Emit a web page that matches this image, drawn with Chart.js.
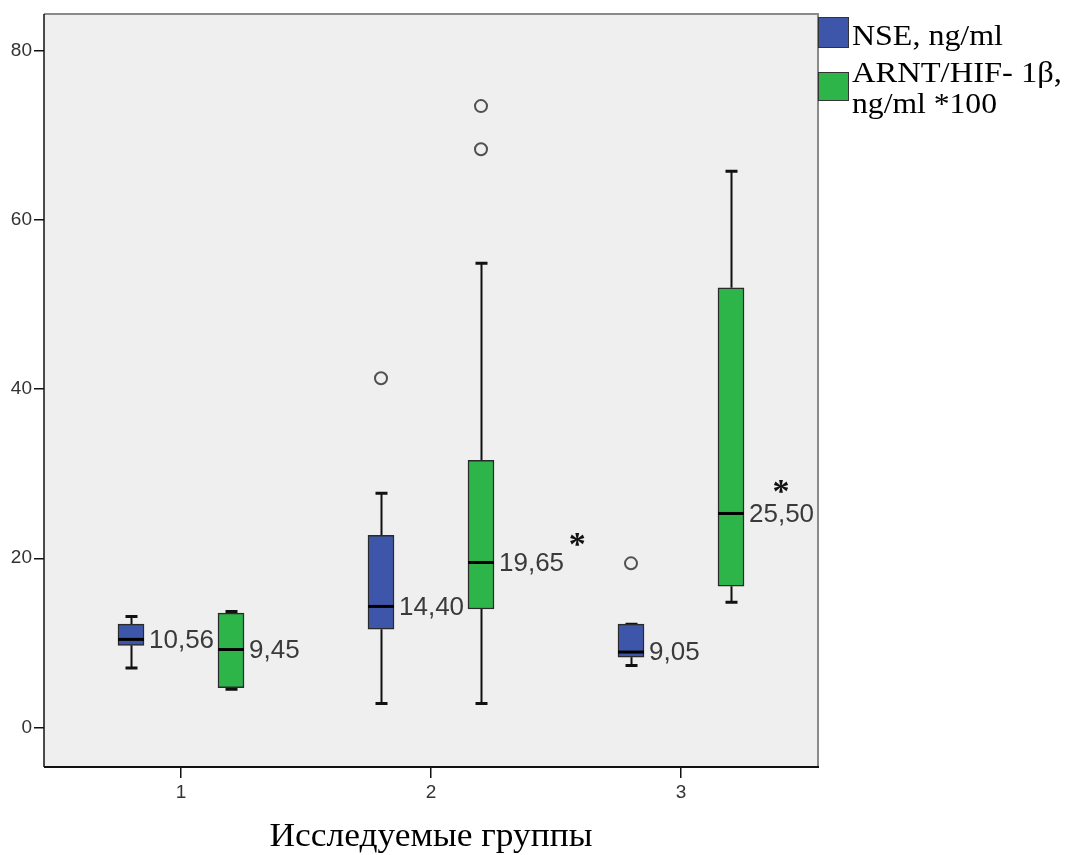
<!DOCTYPE html>
<html>
<head>
<meta charset="utf-8">
<script src="https://cdn.jsdelivr.net/npm/chart.js@4.4.1/dist/chart.umd.min.js"></script>
<style>
  html, body { margin: 0; padding: 0; background: #ffffff; }
  #wrap { width: 1072px; height: 855px; position: relative; }
</style>
</head>
<body>
<div id="wrap"><canvas id="c" width="1072" height="855"></canvas></div>
<script>
// ---- data ----
const groups = [1, 2, 3];
const tickLabelsX = ['1', '2', '3'];
const tickValuesY = [0, 20, 40, 60, 80];
const seriesNames = ['NSE, ng/ml', 'ARNT/HIF- 1β,', 'ng/ml *100'];
const axisTitleX = 'Исследуемые группы';

const nseMin = [7.0, 2.8, 7.3];
const nseQ1 = [9.7, 11.6, 8.3];
const nseMed = [10.4, 14.3, 8.9];
const nseQ3 = [12.2, 22.7, 12.2];
const nseMax = [13.1, 27.7, 12.2];
const nseOutliers = [[], [41.3], [19.4]];
const nseMedianLabels = ['10,56', '14,40', '9,05'];

const arntMin = [4.5, 2.8, 14.8];
const arntQ1 = [4.7, 14.0, 16.7];
const arntMed = [9.2, 19.5, 25.3];
const arntQ3 = [13.5, 31.6, 52.0];
const arntMax = [13.7, 54.9, 65.8];
const arntOutliers = [[], [73.5, 68.4], []];
const arntMedianLabels = ['9,45', '19,65', '25,50'];

// significance marks (value coordinates)
const sigMarkX = [null, 2.585, 3.40];
const sigMarkY = [null, 22.4, 28.6];

const BLUE = '#3d56a9';
const GREEN = '#2db54a';
const OFFSET = 0.2;
const BOX_W = 26;

const series = [
  { color: BLUE, off: -OFFSET, min: nseMin, q1: nseQ1, med: nseMed, q3: nseQ3, max: nseMax, out: nseOutliers, lab: nseMedianLabels },
  { color: GREEN, off: OFFSET, min: arntMin, q1: arntQ1, med: arntMed, q3: arntQ3, max: arntMax, out: arntOutliers, lab: arntMedianLabels }
];

const datasets = [];
series.forEach(s => {
  datasets.push({
    type: 'bar',
    data: groups.map((g, i) => ({ x: g + s.off, y: [s.q1[i], s.q3[i]] })),
    backgroundColor: s.color,
    borderColor: '#2a2a2a',
    borderWidth: 1.5,
    borderSkipped: false,
    barThickness: BOX_W,
    grouped: false,
    order: 2
  });
});
series.forEach(s => {
  const pts = [];
  groups.forEach((g, i) => s.out[i].forEach(v => pts.push({ x: g + s.off, y: v })));
  datasets.push({
    type: 'scatter',
    data: pts,
    pointStyle: 'circle',
    pointRadius: 6,
    borderWidth: 2,
    borderColor: '#505050',
    backgroundColor: 'rgba(0,0,0,0)',
    order: 1
  });
});

function fitText(ctx, text, x, y, targetW, align) {
  const w = ctx.measureText(text).width;
  const sx = targetW / w;
  ctx.save();
  ctx.textAlign = 'left';
  let x0 = x;
  if (align === 'center') x0 = x - targetW / 2;
  ctx.translate(x0, y);
  ctx.scale(sx, 1);
  ctx.fillText(text, 0, 0);
  ctx.restore();
}

const boxPlugin = {
  id: 'boxPlugin',
  beforeDraw(chart) {
    const { ctx, chartArea: a } = chart;
    ctx.save();
    ctx.fillStyle = '#efefef';
    ctx.fillRect(a.left, a.top, a.right - a.left, a.bottom - a.top);
    ctx.restore();
  },
  beforeDatasetsDraw(chart) {
    const { ctx, scales: { x, y } } = chart;
    ctx.save();
    ctx.strokeStyle = '#111';
    series.forEach(s => {
      groups.forEach((g, i) => {
        const px = Math.round(x.getPixelForValue(g + s.off)) + 0.5;
        ctx.lineWidth = 2;
        ctx.beginPath();
        ctx.moveTo(px, y.getPixelForValue(s.q3[i]));
        ctx.lineTo(px, y.getPixelForValue(s.max[i]));
        ctx.moveTo(px, y.getPixelForValue(s.q1[i]));
        ctx.lineTo(px, y.getPixelForValue(s.min[i]));
        ctx.stroke();
        ctx.lineWidth = 3;
        ctx.beginPath();
        [s.max[i], s.min[i]].forEach(v => {
          const py = y.getPixelForValue(v);
          ctx.moveTo(px - 6, py);
          ctx.lineTo(px + 6, py);
        });
        ctx.stroke();
      });
    });
    ctx.restore();
  },
  afterDatasetsDraw(chart) {
    const { ctx, chartArea: a, scales: { x, y } } = chart;
    ctx.save();
    // medians + labels
    series.forEach(s => {
      groups.forEach((g, i) => {
        const px = x.getPixelForValue(g + s.off);
        const py = y.getPixelForValue(s.med[i]);
        ctx.strokeStyle = '#000';
        ctx.lineWidth = 3;
        ctx.beginPath();
        ctx.moveTo(px - BOX_W / 2, py);
        ctx.lineTo(px + BOX_W / 2, py);
        ctx.stroke();
        ctx.fillStyle = '#3a3a3a';
        ctx.font = '26px "Liberation Sans", Arial, sans-serif';
        ctx.textAlign = 'left';
        ctx.textBaseline = 'middle';
        ctx.fillText(s.lab[i], px + BOX_W / 2 + 5, py + 1);
      });
    });
    // significance asterisks
    ctx.fillStyle = '#111';
    ctx.font = 'bold 34px "Liberation Serif", serif';
    ctx.textAlign = 'center';
    ctx.textBaseline = 'middle';
    groups.forEach((g, i) => {
      if (sigMarkX[i] == null) return;
      ctx.fillText('*', x.getPixelForValue(sigMarkX[i]), y.getPixelForValue(sigMarkY[i]) + 8);
    });
    // frame
    ctx.lineWidth = 2;
    ctx.strokeStyle = '#8a8a8a';
    ctx.beginPath();
    ctx.moveTo(a.left, a.top);
    ctx.lineTo(a.right, a.top);
    ctx.lineTo(a.right, a.bottom);
    ctx.stroke();
    ctx.strokeStyle = '#111';
    ctx.lineWidth = 1.5;
    ctx.beginPath();
    ctx.moveTo(a.left, a.top);
    ctx.lineTo(a.left, a.bottom);
    ctx.stroke();
    ctx.lineWidth = 2;
    ctx.beginPath();
    ctx.moveTo(a.left, a.bottom);
    ctx.lineTo(a.right + 1, a.bottom);
    ctx.stroke();

    // legend
    const colors = [BLUE, GREEN];
    const boxes = [[a.right, 17, 30, 30], [a.right, 72, 30, 28]];
    boxes.forEach((b, i) => {
      ctx.fillStyle = colors[i];
      ctx.fillRect(b[0], b[1], b[2], b[3]);
      ctx.strokeStyle = '#333';
      ctx.lineWidth = 1;
      ctx.strokeRect(b[0] + 0.5, b[1] + 0.5, b[2], b[3]);
    });
    ctx.fillStyle = '#000';
    ctx.font = '29px "Liberation Serif", "Times New Roman", serif';
    ctx.textBaseline = 'alphabetic';
    fitText(ctx, seriesNames[0], a.right + 34, 45, 151, 'left');
    fitText(ctx, seriesNames[1], a.right + 34, 82, 210, 'left');
    fitText(ctx, seriesNames[2], a.right + 34, 113, 145, 'left');

    // x axis title
    ctx.font = '33px "Liberation Serif", "Times New Roman", serif';
    fitText(ctx, axisTitleX, 431, 846, 323, 'center');
    ctx.restore();
  }
};

new Chart(document.getElementById('c'), {
  data: { datasets },
  options: {
    responsive: false,
    animation: false,
    layout: { padding: { left: 0, top: 14, right: 254, bottom: 0 } },
    plugins: { legend: { display: false }, tooltip: { enabled: false } },
    scales: {
      x: {
        type: 'linear',
        offset: false,
        min: 0.452,
        max: 3.548,
        afterBuildTicks: sc => { sc.ticks = groups.map(v => ({ value: v })); },
        afterFit: sc => { sc.height = 88; },
        grid: { display: true, offset: false, drawOnChartArea: false, drawTicks: true, tickLength: 11, color: '#111', lineWidth: 1.5 },
        border: { display: false },
        ticks: {
          callback: (v) => tickLabelsX[groups.indexOf(v)] ?? '',
          font: { family: '"Liberation Sans", Arial, sans-serif', size: 19 },
          color: '#333',
          padding: 3,
          maxRotation: 0
        }
      },
      y: {
        type: 'linear',
        min: -4.7,
        max: 84.4,
        afterBuildTicks: sc => { sc.ticks = tickValuesY.map(v => ({ value: v })); },
        afterFit: sc => { sc.width = 44; },
        grid: { display: true, drawOnChartArea: false, drawTicks: true, tickLength: 10, color: '#111', lineWidth: 1.5 },
        border: { display: false },
        ticks: {
          font: { family: '"Liberation Sans", Arial, sans-serif', size: 19 },
          color: '#333',
          padding: 2
        }
      }
    }
  },
  plugins: [boxPlugin]
});
</script>
</body>
</html>
